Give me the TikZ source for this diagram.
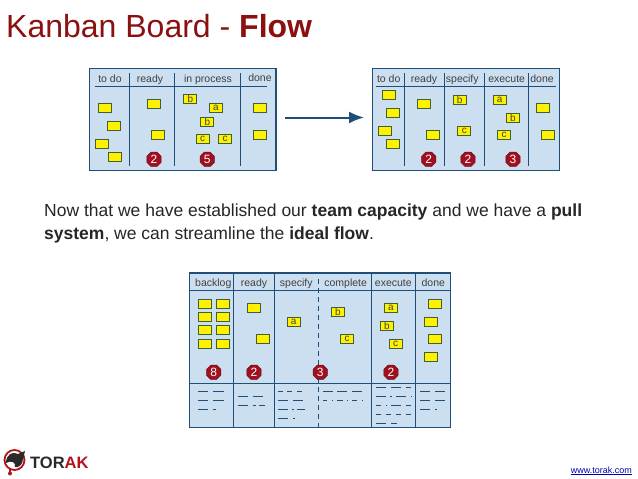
\documentclass[tikz,border=0pt]{standalone}
\usepackage{fontspec}
\setmainfont{Liberation Sans}
\usepackage{xcolor}
\usetikzlibrary{shapes.geometric,arrows.meta}
\definecolor{boardblue}{HTML}{CBDFF1}
\definecolor{boardline}{HTML}{1F4E79}
\definecolor{cardyellow}{HTML}{FFF200}
\definecolor{cardline}{HTML}{3F5F35}
\definecolor{titlered}{HTML}{8B1010}
\definecolor{badgered}{HTML}{A01020}
\definecolor{logored}{HTML}{B5121B}
\definecolor{logodark}{HTML}{2A2A2A}
\newcommand{\sz}[1]{\fontsize{#1}{#1}\selectfont}
\newcommand{\scribble}[2]{\foreach \a/\b in {#2} \draw[scribble] (\a,#1) -- (\b,#1);}
\tikzset{
  board/.style={draw=boardline,fill=boardblue,line width=1.3pt},
  rule/.style={draw=boardline,line width=1pt},
  card/.style={draw=cardline,fill=cardyellow,line width=1.2pt,minimum width=13pt,minimum height=9pt,inner sep=0pt,text=black!75,font=\sz{10}},
  badge/.style={regular polygon,regular polygon sides=8,fill=badgered,draw=badgered!70!black,line width=0.5pt,minimum size=15.5pt,inner sep=0pt,text=white,font=\sz{12}},
  head/.style={text=black!75,font=\sz{10.5},inner sep=0pt,anchor=base},
  scribble/.style={draw=boardline,line width=1pt}
}
\begin{document}
\begin{tikzpicture}[x=1pt,y=-1pt]
    \useasboundingbox (0,0) rectangle (638,479);
    \fill[white] (0,0) rectangle (638,479);

    % Title
    \node[anchor=base west,inner sep=0pt,text=titlered,font=\sz{32}] (title) at (6,37) {Kanban Board - \textbf{Flow}};

    % First board
    \draw[board] (89.5,68.7) rectangle (276,170.5);
    \draw[rule] (95,86) -- (267,86);
    \foreach \x in {129.7,174,240.7} \draw[rule] (\x,73) -- (\x,166);
    \node[head] (oneTodo) at (110,82) {to do};
    \node[head] (oneReady) at (150,82) {ready};
    \node[head] (oneProcess) at (208,82) {in process};
    \node[head] (oneDone) at (260,81) {done};
    \foreach \x/\y [count=\i] in {105.3/108.3,114.3/126,101.7/144,115/157.3,154.3/104,158.3/134.7,260.3/108.3,260.3/134.7}
        \node[card] (oneCard\i) at (\x,\y) {};
    \node[card] (oneB) at (190.3,99.3) {b};
    \node[card] (oneA) at (216,108) {a};
    \node[card] (oneBb) at (207.3,121.7) {b};
    \node[card] (oneC) at (202.7,139.3) {c};
    \node[card] (oneCc) at (225,139.3) {c};
    \node[badge] (oneTwo) at (154,159.3) {2};
    \node[badge] (oneFive) at (207.3,159.3) {5};

    % Arrow
    \coordinate (flowStart) at (285,117.5);
    \coordinate (flowEnd) at (364,117.5);
    \draw[-{Latex[length=15pt,width=12pt]},boardline,line width=2pt] (flowStart) -- (flowEnd);

    % Second board
    \draw[board] (372.7,68.7) rectangle (559.3,170.5);
    \draw[rule] (376,86) -- (556,86);
    \foreach \x in {404,444.3,484,528.3} \draw[rule] (\x,73) -- (\x,166);
    \node[head] (twoTodo) at (388.7,82) {to do};
    \node[head] (twoReady) at (424,82) {ready};
    \node[head] (twoSpecify) at (462.3,82) {specify};
    \node[head] (twoExecute) at (506.7,82) {execute};
    \node[head] (twoDone) at (542,82) {done};
    \foreach \x/\y [count=\i] in {388.7/95,393.3/112.7,384.7/130.7,393.3/144,424.3/104,433.3/135,543.3/108.3,548.3/134.7}
        \node[card] (twoCard\i) at (\x,\y) {};
    \node[card] (twoB) at (459.7,99.7) {b};
    \node[card] (twoC) at (464.3,130.7) {c};
    \node[card] (twoA) at (499.7,99.7) {a};
    \node[card] (twoBb) at (513,117.7) {b};
    \node[card] (twoCc) at (504,135) {c};
    \node[badge] (twoTwo) at (428.7,159.3) {2};
    \node[badge] (twoTwob) at (468,159.3) {2};
    \node[badge] (twoThree) at (513,159.3) {3};

    % Text
    \node[anchor=base west,inner sep=0pt,font=\sz{17.5},text=black!85] (lineOne) at (44,216.5) {Now that we have established our \textbf{team capacity} and we have a \textbf{pull}};
    \node[anchor=base west,inner sep=0pt,font=\sz{17.5},text=black!85] (lineTwo) at (44,239.5) {\textbf{system}, we can streamline the \textbf{ideal flow}.};

    % Third board
    \draw[board] (189.3,273) rectangle (450.7,427.3);
    \draw[rule] (189.3,290.7) -- (450.7,290.7);
    \draw[rule] (189.3,383) -- (450.7,383);
    \foreach \x in {233.3,274,371.3,415.3} \draw[rule] (\x,273) -- (\x,427.3);
    \draw[rule,dash pattern=on 5pt off 4pt] (318,279) -- (318,427.3);
    \node[head] (lowBacklog) at (213.3,286) {backlog};
    \node[head] (lowReady) at (254,286) {ready};
    \node[head] (lowSpecify) at (296.3,286) {specify};
    \node[head] (lowComplete) at (345.7,286) {complete};
    \node[head] (lowExecute) at (393.3,286) {execute};
    \node[head] (lowDone) at (433.3,286) {done};
    \foreach \x/\y [count=\i] in {204.7/303.7,222.7/303.7,204.7/317,222.7/317,204.7/330.3,222.7/330.3,204.7/343.7,222.7/343.7,253.7/308,262.7/339,435.3/303.7,430.7/321.7,435.3/339,430.7/356.7}
        \node[card] (lowCard\i) at (\x,\y) {};
    \node[card] (lowA) at (293.7,321.7) {a};
    \node[card] (lowB) at (338,312.3) {b};
    \node[card] (lowC) at (347,339) {c};
    \node[card] (lowAa) at (391,308) {a};
    \node[card] (lowBb) at (387,325.7) {b};
    \node[card] (lowCc) at (395.7,343.7) {c};
    \node[badge] (lowEight) at (213.7,372.3) {8};
    \node[badge] (lowTwo) at (254,372.3) {2};
    \node[badge] (lowThree) at (320.3,372.3) {3};
    \node[badge] (lowTwob) at (391,372.3) {2};

    % Scribbled notes
    \scribble{391.7}{198.3/208.3,213.3/224}
    \scribble{400.7}{198.3/208.3,213.3/224}
    \scribble{409.3}{198.3/208.3,213.3/216}
    \scribble{396.7}{238/248,253/263}
    \scribble{405.7}{238/248,253/256,259/265}
    \scribble{391.7}{278/283,287/292,297/302}
    \scribble{400.7}{278/288,293/303}
    \scribble{409.3}{278/288,292/294,297/305}
    \scribble{418.3}{278/288,293/295}
    \scribble{391.7}{323/333,337/347,352/362}
    \scribble{400.7}{323/327,332/333,337/343,347/348,352/357,362/363}
    \scribble{387.3}{376/386,391/401,406/411}
    \scribble{396.7}{376/386,390/392,396/406,411/412}
    \scribble{405.7}{376/381,386/387,391/401,406/411}
    \scribble{414.3}{376/381,386/391,396/401,406/411}
    \scribble{423.3}{376/386,391/397}
    \scribble{391.7}{420/430,435/445}
    \scribble{400.7}{420/430,435/445}
    \scribble{409.3}{420/430,435/437}

    % Logo
    \draw[logored,line width=1.8pt] (14.5,460) circle (10);
    \draw[logored,line width=1.6pt] (10,469) -- (10,472);
    \fill[logored] (10,473.5) circle (2);
    \fill[logodark] (6,463) .. controls (6,454) and (13,451) .. (18,454) -- (25,451) -- (23,459) .. controls (23,465) and (18,468) .. (15,467) .. controls (16,462) and (11,460) .. (6,463) -- cycle;
    \node[anchor=base west,inner sep=0pt,font=\sz{16.5}\bfseries,text=logodark] (logoText) at (30,468) {TOR\textcolor{logored}{AK}};

    % Link
    \node[anchor=base east,inner sep=0pt,font=\sz{9},text=blue!70!black] (link) at (632,473) {\underline{www.torak.com}};
\end{tikzpicture}
\end{document}
